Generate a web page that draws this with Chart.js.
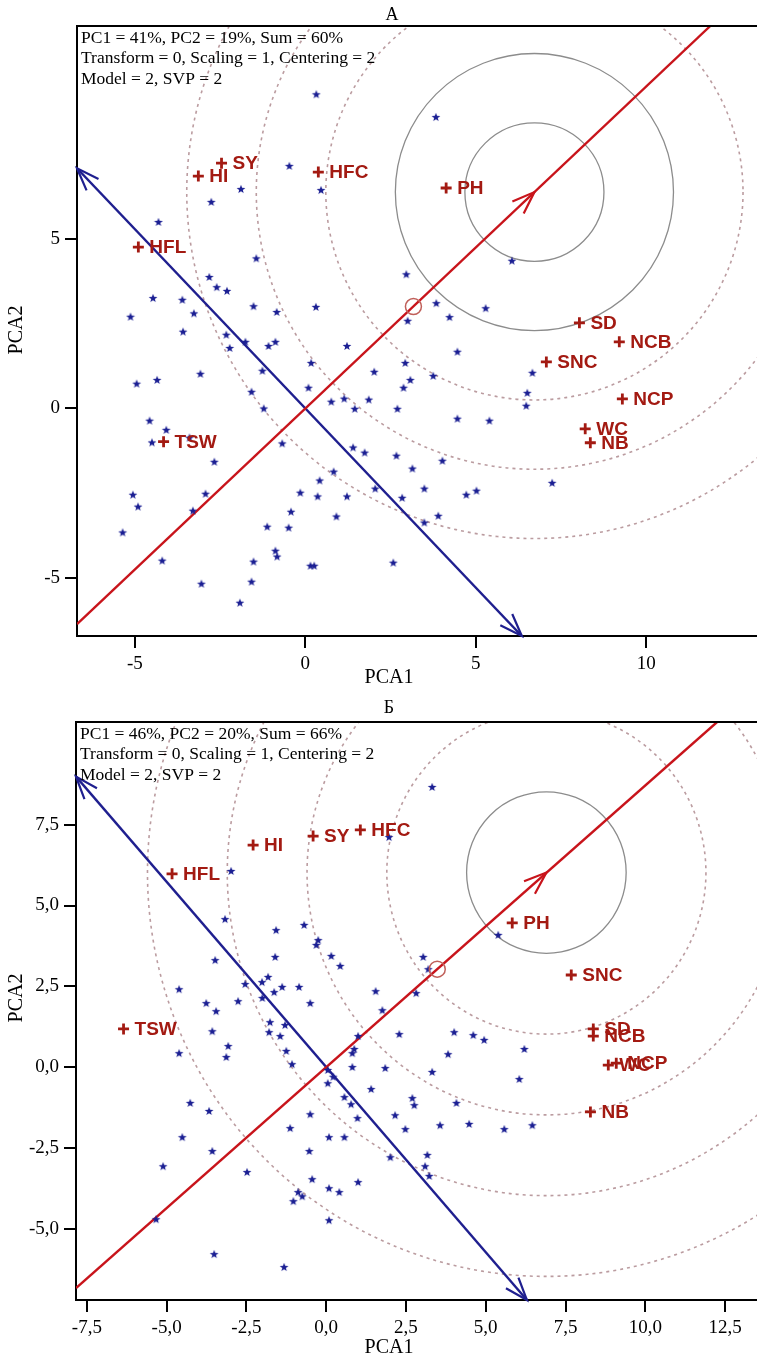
<!DOCTYPE html>
<html lang="ru">
<head>
<meta charset="UTF-8">
<title>GGE biplot</title>
<script src="https://cdn.jsdelivr.net/npm/chart.js"></script>
<style>
    body { margin: 0; background: #fff; }
    canvas { display: block; }
</style>
</head>
<body>
<canvas id="biplotA" width="757" height="690"></canvas>
<canvas id="biplotB" width="757" height="669"></canvas>
<script>
// ---------- panel A ----------
const statsA = ['PC1 = 41%, PC2 = 19%, Sum = 60%', 'Transform = 0, Scaling = 1, Centering = 2', 'Model = 2, SVP = 2'];
const xTicksA = [-5, 0, 5, 10];
const yTicksA = [-5, 0, 5];
const traitNamesA = ['PH', 'SD', 'NCB', 'SNC', 'NCP', 'WC', 'NB', 'HI', 'SY', 'HFC', 'HFL', 'TSW'];
const traitPointsA = [[4.13, 6.49], [8.04, 2.52], [9.21, 1.96], [7.07, 1.37], [9.3, 0.28], [8.21, -0.6],
    [8.36, -1.01], [-3.14, 6.84], [-2.46, 7.22], [0.38, 6.96], [-4.9, 4.75], [-4.16, -0.98]];
const genotypesA = [
    [0.32, 9.25], [-0.47, 7.14], [-1.89, 6.46], [0.46, 6.43], [-2.76, 6.08], [-4.31, 5.49], [-1.44, 4.42],
    [-2.82, 3.87], [-2.6, 3.57], [-2.3, 3.46], [-4.47, 3.25], [-3.61, 3.2], [-1.52, 3.01], [0.31, 2.99],
    [-0.84, 2.84], [-3.27, 2.8], [-5.13, 2.7], [-3.59, 2.26], [-2.32, 2.17], [3.83, 8.58], [6.06, 4.35],
    [2.96, 3.95], [3.84, 3.1], [4.23, 2.69], [5.29, 2.95], [3.0, 2.58], [-1.76, 1.96], [-2.22, 1.78],
    [-1.08, 1.84], [-0.88, 1.96], [1.22, 1.84], [0.17, 1.34], [-3.08, 1.02], [-1.26, 1.11], [-4.35, 0.84],
    [-4.95, 0.73], [2.02, 1.08], [0.09, 0.61], [-1.58, 0.49], [0.76, 0.2], [1.14, 0.29], [1.45, -0.01],
    [1.86, 0.26], [-1.22, 0], [-4.57, -0.36], [-4.08, -0.63], [-4.5, -1.0], [-3.4, -0.86], [-0.68, -1.03],
    [1.4, -1.15], [1.74, -1.3], [-2.67, -1.57], [0.83, -1.86], [0.42, -2.12], [2.05, -2.36], [-0.15, -2.48],
    [0.36, -2.59], [1.22, -2.59], [-5.06, -2.54], [-2.93, -2.51], [-4.91, -2.89], [-3.3, -3.01],
    [-0.42, -3.04], [0.91, -3.18], [-1.12, -3.48], [-0.49, -3.51], [-5.36, -3.65], [-0.88, -4.19],
    [-0.83, -4.36], [-1.52, -4.51], [-4.2, -4.48], [0.15, -4.63], [0.26, -4.63], [-1.58, -5.1],
    [-3.05, -5.16], [-1.92, -5.72], [4.46, 1.67], [2.93, 1.34], [3.75, 0.96], [3.08, 0.84], [2.88, 0.61],
    [6.66, 1.05], [6.51, 0.46], [6.48, 0.08], [2.7, -0.01], [4.46, -0.3], [5.4, -0.36], [2.67, -1.39],
    [4.02, -1.54], [3.14, -1.77], [7.24, -2.19], [3.49, -2.36], [2.84, -2.63], [4.72, -2.54], [5.02, -2.42],
    [3.9, -3.16], [3.49, -3.36], [2.58, -4.54]
];
const idealA = [6.72, 6.37];
const solidRingsA = [2.04, 4.08];
const dottedRingsA = [6.12, 8.16, 10.2];
const atcLineA = [[-6.7, -6.35], [11.88, 11.26]];
const perpLineA = [[-6.7, 7.07], [6.35, -6.7]];
const meanMarkA = [3.17, 3.0];

// ---------- panel Б ----------
const statsB = ['PC1 = 46%, PC2 = 20%, Sum = 66%', 'Transform = 0, Scaling = 1, Centering = 2', 'Model = 2, SVP = 2'];
const xTicksB = [-7.5, -5, -2.5, 0, 2.5, 5, 7.5, 10, 12.5];
const yTicksB = [-5, -2.5, 0, 2.5, 5, 7.5];
const traitNamesB = ['HFL', 'HI', 'SY', 'HFC', 'PH', 'SNC', 'SD', 'NCB', 'WC', 'NCP', 'NB', 'TSW'];
const traitPointsB = [[-4.83, 5.98], [-2.29, 6.87], [-0.41, 7.15], [1.07, 7.34], [5.83, 4.46], [7.68, 2.85],
    [8.37, 1.18], [8.37, 0.96], [8.84, 0.06], [9.09, 0.12], [8.28, -1.39], [-6.35, 1.18]];
const genotypesB = [
    [-2.98, 6.07], [-3.17, 4.58], [-1.57, 4.24], [-0.69, 4.4], [-0.25, 3.93], [-0.31, 3.78], [-1.6, 3.41],
    [-3.48, 3.31], [0.16, 3.44], [0.44, 3.13], [-4.61, 2.41], [-2.54, 2.57], [-2.01, 2.63], [-1.82, 2.79],
    [-1.38, 2.48], [-1.63, 2.32], [-0.85, 2.48], [-2.0, 2.14], [1.55, 2.35], [-3.76, 1.98], [-2.76, 2.04],
    [-3.45, 1.73], [-0.5, 1.98], [-1.76, 1.39], [-3.57, 1.11], [-1.79, 1.08], [-1.44, 0.96], [-1.29, 1.3],
    [1.0, 0.96], [-3.07, 0.65], [-3.13, 0.31], [-4.61, 0.43], [-1.25, 0.5], [-1.07, 0.09], [0.88, 0.56],
    [0.82, 0.43], [0.82, 0], [0.05, -0.09], [0.05, -0.5], [0.22, -0.3], [1.41, -0.68], [-4.26, -1.11],
    [-3.67, -1.36], [0.57, -0.93], [0.78, -1.15], [-0.5, -1.46], [0.98, -1.58], [-1.13, -1.89],
    [-4.51, -2.17], [0.09, -2.17], [0.57, -2.17], [-3.57, -2.6], [-0.53, -2.6], [-5.11, -3.07],
    [-2.48, -3.25], [-0.44, -3.47], [1.0, -3.56], [0.09, -3.75], [0.41, -3.87], [-0.88, -3.87],
    [-0.75, -4.0], [-1.03, -4.15], [0.09, -4.74], [-5.33, -4.71], [-3.51, -5.79], [-1.32, -6.19],
    [2.29, 1.02], [4.01, 1.08], [4.61, 0.99], [4.95, 0.84], [6.21, 0.56], [3.82, 0.4], [1.85, -0.03],
    [3.32, -0.15], [6.05, -0.37], [2.7, -0.96], [2.76, -1.18], [4.08, -1.11], [2.16, -1.49], [2.48, -1.92],
    [3.57, -1.8], [4.48, -1.76], [5.58, -1.92], [6.46, -1.8], [2.01, -2.79], [3.17, -2.72], [3.1, -3.07],
    [3.23, -3.37], [3.32, 8.67], [1.97, 7.12], [5.39, 4.09], [3.04, 3.41], [3.2, 3.03], [2.82, 2.29],
    [1.76, 1.76]
];
const idealB = [6.9, 6.02];
const solidRingsB = [2.5];
const dottedRingsB = [5.0, 7.5, 10.0, 12.5];
const atcLineB = [[-7.84, -6.84], [12.25, 10.68]];
const perpLineB = [[-7.84, 8.99], [6.29, -7.21]];
const meanMarkB = [3.48, 3.03];

const RED = '#c8141b';
const BLUE = '#1f1f8f';
const TRAIT = '#a31a12';
const STAR = '#1b1f93';
const SERIF = '"Liberation Serif", "Times New Roman", serif';
const SANS = '"Liberation Sans", Arial, sans-serif';

// small filled five-point star used as the genotype marker
function starSprite(color) {
    const c = document.createElement('canvas');
    c.width = c.height = 10;
    const g = c.getContext('2d');
    g.fillStyle = color;
    g.beginPath();
    for (let i = 0; i < 10; i++) {
        const r = i % 2 ? 1.9 : 4.6;
        const a = -Math.PI / 2 + i * Math.PI / 5;
        g.lineTo(5 + r * Math.cos(a), 5.4 + r * Math.sin(a));
    }
    g.closePath();
    g.fill();
    return c;
}
const star = starSprite(STAR);

const pts = arr => arr.map(p => ({ x: p[0], y: p[1] }));

function arrowHead(ctx, x0, y0, x1, y1, color) {
    const ang = Math.atan2(y1 - y0, x1 - x0);
    const len = 24, spread = 0.35;
    ctx.strokeStyle = color;
    ctx.lineWidth = 2.2;
    ctx.setLineDash([]);
    ctx.beginPath();
    ctx.moveTo(x1 - len * Math.cos(ang - spread), y1 - len * Math.sin(ang - spread));
    ctx.lineTo(x1, y1);
    ctx.lineTo(x1 - len * Math.cos(ang + spread), y1 - len * Math.sin(ang + spread));
    ctx.stroke();
}

// rings, arrowheads, trait names and frame text for one panel
function decor(p) {
    return {
        id: 'decor',
        beforeDatasetsDraw(chart) {
            const { ctx, chartArea: a, scales: { x, y } } = chart;
            const cx = x.getPixelForValue(p.ideal[0]), cy = y.getPixelForValue(p.ideal[1]);
            ctx.save();
            ctx.beginPath();
            ctx.rect(a.left, a.top, a.right - a.left, a.bottom - a.top);
            ctx.clip();
            const ring = (r, dotted) => {
                const rx = Math.abs(x.getPixelForValue(p.ideal[0] + r) - cx);
                const ry = Math.abs(y.getPixelForValue(p.ideal[1] + r) - cy);
                ctx.beginPath();
                ctx.ellipse(cx, cy, rx, ry, 0, 0, Math.PI * 2);
                ctx.setLineDash(dotted ? [3, 4] : []);
                ctx.strokeStyle = dotted ? '#bb9ca0' : '#8c8c8c';
                ctx.lineWidth = dotted ? 1.6 : 1.3;
                ctx.stroke();
            };
            p.solid.forEach(r => ring(r, false));
            p.dotted.forEach(r => ring(r, true));
            ctx.restore();
        },
        afterDatasetsDraw(chart) {
            const { ctx, scales: { x, y } } = chart;
            const px = v => [x.getPixelForValue(v[0]), y.getPixelForValue(v[1])];
            ctx.save();
            const [b0x, b0y] = px(p.perp[0]), [b1x, b1y] = px(p.perp[1]);
            arrowHead(ctx, b1x, b1y, b0x, b0y, BLUE);
            arrowHead(ctx, b0x, b0y, b1x, b1y, BLUE);
            const [ox, oy] = px([0, 0]), [ix, iy] = px(p.ideal);
            arrowHead(ctx, ox, oy, ix, iy, RED);

            ctx.font = 'bold 19px ' + SANS;
            ctx.fillStyle = TRAIT;
            ctx.textAlign = 'left';
            ctx.textBaseline = 'middle';
            p.names.forEach((n, i) => {
                const [tx, ty] = px(p.traits[i]);
                ctx.fillText(n, tx + 11, ty + 1);
            });
            ctx.restore();
        },
        afterDraw(chart) {
            const { ctx, chartArea: a } = chart;
            ctx.save();
            ctx.strokeStyle = '#000';
            ctx.lineWidth = 2;
            ctx.beginPath();
            ctx.moveTo(a.left - 1, a.top);
            ctx.lineTo(a.right, a.top);
            ctx.stroke();

            ctx.fillStyle = '#000';
            ctx.textBaseline = 'middle';
            ctx.textAlign = 'center';
            ctx.font = '18px ' + SERIF;
            ctx.fillText(p.title, p.titleX, p.titleY);

            ctx.font = '20px ' + SERIF;
            ctx.fillText('PCA1', 389, p.xTitleY);
            ctx.save();
            ctx.translate(17, p.yTitleY);
            ctx.rotate(-Math.PI / 2);
            ctx.fillText('PCA2', 0, 0);
            ctx.restore();

            ctx.textAlign = 'left';
            ctx.font = '17.5px ' + SERIF;
            p.stats.forEach((s, i) => ctx.fillText(s, a.left + 4, a.top + 12 + i * 20.5));
            ctx.restore();
        }
    };
}

function makeBiplot(id, p) {
    const axisStyle = (ticks, fmt) => ({
        type: 'linear',
        afterBuildTicks: s => { s.ticks = ticks.map(v => ({ value: v })); },
        ticks: { font: { family: SERIF, size: 19 }, color: '#000', padding: 5, callback: fmt },
        grid: { display: true, drawOnChartArea: false, drawTicks: true, tickLength: 12, color: '#000', lineWidth: 2 },
        border: { display: true, color: '#000', width: 2 }
    });
    const xAxis = Object.assign(axisStyle(p.xTicks, p.fmt), {
        min: p.xRange[0], max: p.xRange[1],
        afterFit: s => { s.height = p.xAxisH; }
    });
    const yAxis = Object.assign(axisStyle(p.yTicks, p.fmt), {
        min: p.yRange[0], max: p.yRange[1],
        afterFit: s => { s.width = p.yAxisW; }
    });
    return new Chart(document.getElementById(id), {
        type: 'scatter',
        data: {
            datasets: [
                {
                    data: pts(p.traits), pointStyle: 'cross', pointRadius: 5.5,
                    borderColor: TRAIT, pointBorderWidth: 2.8, borderWidth: 2.8
                },
                {
                    data: pts([p.mark]), pointStyle: 'circle', pointRadius: 8,
                    backgroundColor: 'rgba(0,0,0,0)', borderColor: '#c0605a', borderWidth: 1.5
                },
                { data: pts(p.genotypes), pointStyle: star, pointRadius: 5 },
                {
                    data: pts(p.atc), showLine: true, pointRadius: 0,
                    borderColor: RED, borderWidth: 2.4
                },
                {
                    data: pts(p.perp), showLine: true, pointRadius: 0,
                    borderColor: BLUE, borderWidth: 2.4
                }
            ]
        },
        options: {
            responsive: false,
            devicePixelRatio: 1,
            animation: false,
            layout: { autoPadding: false, padding: { top: p.top, left: 0, right: 0, bottom: 0 } },
            scales: { x: xAxis, y: yAxis },
            plugins: { legend: { display: false }, tooltip: { enabled: false } }
        },
        plugins: [decor(p)]
    });
}

makeBiplot('biplotA', {
    title: 'A', titleX: 392, titleY: 15, xTitleY: 678, yTitleY: 330,
    stats: statsA, xTicks: xTicksA, yTicks: yTicksA, fmt: v => String(v),
    xRange: [-6.7, 13.25], yRange: [-6.7, 11.26], top: 26, xAxisH: 54, yAxisW: 77,
    names: traitNamesA, traits: traitPointsA, genotypes: genotypesA,
    ideal: idealA, solid: solidRingsA, dotted: dottedRingsA,
    atc: atcLineA, perp: perpLineA, mark: meanMarkA
});

makeBiplot('biplotB', {
    title: 'Б', titleX: 389, titleY: 18, xTitleY: 658, yTitleY: 308,
    stats: statsB, xTicks: xTicksB, yTicks: yTicksB, fmt: v => v.toFixed(1).replace('.', ','),
    xRange: [-7.84, 13.5], yRange: [-7.21, 10.68], top: 32, xAxisH: 59, yAxisW: 76,
    names: traitNamesB, traits: traitPointsB, genotypes: genotypesB,
    ideal: idealB, solid: solidRingsB, dotted: dottedRingsB,
    atc: atcLineB, perp: perpLineB, mark: meanMarkB
});
</script>
</body>
</html>
